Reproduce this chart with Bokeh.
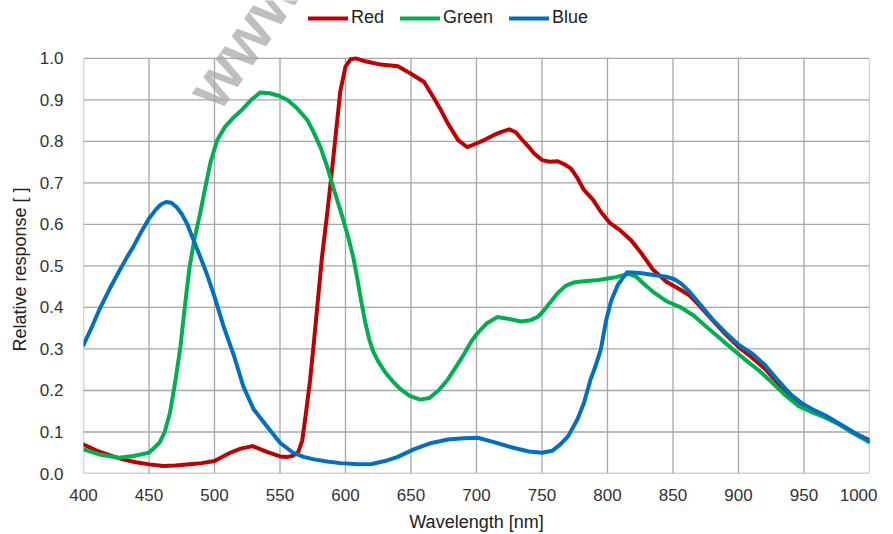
from bokeh.plotting import figure
from bokeh.models import Legend, LegendItem, FixedTicker, NumeralTickFormatter, Range1d, Title
from bokeh.core.properties import value
from bokeh.embed import file_html
from bokeh.resources import INLINE

# ---- data ----
red_wl = [400, 410, 422, 430, 440, 450, 461, 470, 481, 490, 500, 512, 520, 529, 540, 550, 556, 560, 564,
          567, 570, 573, 576, 579, 582, 586, 589, 592, 596, 600, 604, 608, 615, 627, 640, 650, 660, 667,
          672, 678, 686, 693, 700, 707, 713, 719, 725, 730, 734, 739, 744, 750, 756, 762, 767, 772, 777,
          782, 789, 795, 802, 810, 818, 826, 835, 845, 856, 863, 870, 880, 890, 900, 910, 920, 930, 940,
          950, 960, 970, 980, 990, 1000]
red_val = [0.070, 0.055, 0.042, 0.034, 0.027, 0.022, 0.018, 0.019, 0.022, 0.025, 0.030, 0.050, 0.060, 0.066,
           0.052, 0.041, 0.040, 0.043, 0.052, 0.080, 0.150, 0.226, 0.320, 0.420, 0.520, 0.626, 0.710, 0.800,
           0.920, 0.980, 0.998, 1.000, 0.993, 0.985, 0.981, 0.963, 0.943, 0.907, 0.880, 0.844, 0.803, 0.786,
           0.795, 0.805, 0.815, 0.823, 0.829, 0.822, 0.807, 0.790, 0.771, 0.755, 0.751, 0.752, 0.745, 0.735,
           0.712, 0.683, 0.659, 0.630, 0.603, 0.585, 0.562, 0.530, 0.490, 0.462, 0.442, 0.428, 0.405, 0.370,
           0.336, 0.305, 0.280, 0.253, 0.218, 0.185, 0.160, 0.145, 0.130, 0.113, 0.095, 0.080]

green_wl = [400, 412, 427, 438, 450, 458, 462, 466, 470, 474, 478, 481, 485, 489, 493, 497, 502, 508, 515,
            521, 528, 535, 542, 549, 556, 563, 571, 576, 581, 586, 592, 597, 602, 606, 609, 612, 615, 618,
            621, 625, 630, 636, 642, 649, 657, 664, 671, 678, 684, 690, 696, 701, 708, 716, 725, 734, 741,
            747, 752, 757, 762, 768, 774, 782, 793, 805, 816, 822, 828, 835, 845, 856, 866, 876, 886, 896,
            906, 916, 926, 936, 946, 956, 966, 976, 986, 1000]
green_val = [0.058, 0.046, 0.038, 0.042, 0.050, 0.074, 0.100, 0.146, 0.220, 0.306, 0.420, 0.498, 0.570,
             0.626, 0.690, 0.750, 0.803, 0.835, 0.859, 0.876, 0.900, 0.918, 0.916, 0.910, 0.899, 0.880,
             0.851, 0.820, 0.785, 0.739, 0.675, 0.625, 0.570, 0.520, 0.470, 0.415, 0.365, 0.325, 0.295,
             0.270, 0.245, 0.222, 0.203, 0.187, 0.178, 0.182, 0.200, 0.226, 0.255, 0.285, 0.318, 0.339,
             0.362, 0.377, 0.372, 0.366, 0.369, 0.378, 0.395, 0.415, 0.435, 0.452, 0.460, 0.463, 0.466,
             0.472, 0.481, 0.474, 0.456, 0.437, 0.415, 0.400, 0.380, 0.352, 0.325, 0.298, 0.272, 0.247,
             0.218, 0.188, 0.162, 0.148, 0.135, 0.120, 0.100, 0.075]

blue_wl = [400, 406, 412, 420, 427, 433, 438, 444, 450, 455, 459, 463, 467, 471, 475, 479, 483, 486, 490,
           494, 500, 507, 515, 522, 530, 540, 550, 560, 568, 576, 586, 596, 610, 620, 630, 640, 652, 665,
           678, 690, 701, 714, 728, 740, 750, 758, 764, 770, 777, 782, 787, 791, 795, 799, 803, 808, 815,
           825, 835, 845, 851, 856, 862, 870, 880, 890, 900, 910, 920, 930, 940, 948, 958, 968, 978, 988,
           1000]
blue_val = [0.310, 0.350, 0.394, 0.445, 0.486, 0.520, 0.546, 0.582, 0.614, 0.635, 0.648, 0.654, 0.652,
            0.642, 0.625, 0.602, 0.570, 0.546, 0.515, 0.482, 0.426, 0.354, 0.282, 0.210, 0.154, 0.114,
            0.074, 0.050, 0.040, 0.034, 0.029, 0.025, 0.022, 0.023, 0.030, 0.040, 0.058, 0.073, 0.082,
            0.085, 0.086, 0.075, 0.062, 0.053, 0.050, 0.055, 0.070, 0.090, 0.130, 0.170, 0.226, 0.260,
            0.300, 0.370, 0.418, 0.455, 0.485, 0.483, 0.478, 0.474, 0.468, 0.458, 0.440, 0.410, 0.372,
            0.340, 0.310, 0.290, 0.262, 0.225, 0.190, 0.170, 0.152, 0.137, 0.118, 0.099, 0.078]

series_names = ["Red", "Green", "Blue"]
series_colors = ["#C00000", "#00B050", "#0070C0"]

x_ticks = [400, 450, 500, 550, 600, 650, 700, 750, 800, 850, 900, 950, 1000]
y_ticks = [0.0, 0.1, 0.2, 0.3, 0.4, 0.5, 0.6, 0.7, 0.8, 0.9, 1.0]
x_title = "Wavelength [nm]"
y_title = "Relative response [ ]"
watermark_text = ["www"]

X_MIN, X_MAX = 400, 1000
Y_MIN, Y_MAX = 0.0, 1.0
# frame reaches the top of the canvas so legend / watermark can sit above the 1.0 line
Y_TOP = Y_MAX + 58 / 416

# ---- figure ----
p = figure(width=877, height=534, output_backend="svg", toolbar_location=None,
           x_range=Range1d(X_MIN, X_MAX), y_range=Range1d(Y_MIN, Y_TOP),
           min_border_left=83, min_border_right=8, min_border_top=0, min_border_bottom=60,
           background_fill_color="white", border_fill_color="white")
p.outline_line_color = None
p.xgrid.visible = False
p.ygrid.visible = False

p.xaxis.ticker = FixedTicker(ticks=x_ticks)
p.yaxis.ticker = FixedTicker(ticks=y_ticks)
p.yaxis.formatter = NumeralTickFormatter(format="0.0")

for ax in (p.xaxis, p.yaxis):
    ax.axis_line_color = None
    ax.major_tick_line_color = None
    ax.minor_tick_line_color = None
    ax.major_tick_out = 0
    ax.major_tick_in = 0
    ax.minor_tick_out = 0
    ax.minor_tick_in = 0
    ax.major_label_text_font = "Liberation Sans"
    ax.major_label_text_font_size = "17px"
    ax.major_label_text_color = "#333333"
    ax.axis_label_text_font = "Liberation Sans"
    ax.axis_label_text_font_size = "18px"
    ax.axis_label_text_font_style = "normal"
    ax.axis_label_text_color = "#222222"

p.xaxis.axis_label = x_title
p.xaxis.major_label_standoff = 15
p.xaxis.axis_label_standoff = 8
p.yaxis.major_label_standoff = 20

# y title as a side title so it can be centred on the 0..1 part of the frame
yt = Title(text=y_title, align="left", offset=122, vertical_align="top", standoff=10,
           text_font="Liberation Sans", text_font_size="18px", text_font_style="normal",
           text_color="#222222")
p.add_layout(yt, "left")

# watermark (gray rotated text, cut at the top edge)
p.text(x=[490], y=[0.899], text=watermark_text, angle=55, angle_units="deg",
       text_font=value("Liberation Sans"), text_font_size="64px", text_font_style="bold",
       text_color="#bfbfbf", text_align="left", text_baseline="alphabetic")

# grid (also forms the plot border)
grid_col = "#a6a6a6"
nx, ny = len(x_ticks), len(y_ticks)
p.segment(x0=x_ticks, y0=[Y_MIN] * nx, x1=x_ticks, y1=[Y_MAX] * nx, line_color=grid_col, line_width=1.3)
p.segment(x0=[X_MIN] * ny, y0=y_ticks, x1=[X_MAX] * ny, y1=y_ticks, line_color=grid_col, line_width=1.3)

renderers = []
for wl, val, col in zip([red_wl, green_wl, blue_wl], [red_val, green_val, blue_val], series_colors):
    r = p.line(wl, val, line_color=col, line_width=4, line_join="round", line_cap="round")
    renderers.append(r)

legend = Legend(items=[LegendItem(label=n, renderers=[r]) for n, r in zip(series_names, renderers)],
                orientation="horizontal", location=(225, 445),
                glyph_width=40, glyph_height=16, label_standoff=3, spacing=16,
                padding=0, margin=0, border_line_color=None, background_fill_alpha=0,
                label_text_font="Liberation Sans", label_text_font_size="18px",
                label_text_color="#222222")
p.add_layout(legend, "center")

open("out.html", "w").write(file_html(p, INLINE))
